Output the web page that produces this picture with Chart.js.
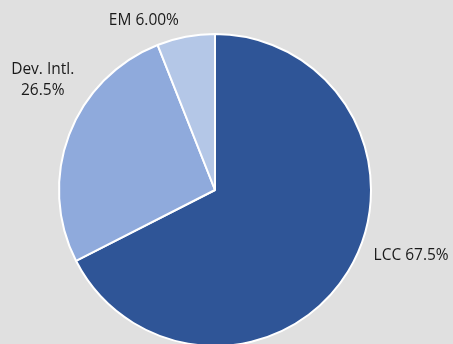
<!DOCTYPE html>
<html>
<head>
<meta charset="utf-8">
<script src="https://cdn.jsdelivr.net/npm/chart.js@4"></script>
<style>
  html, body { margin: 0; padding: 0; background: #e0e0e0; overflow: hidden; }
  #wrap { width: 453px; height: 350px; position: relative; }
</style>
</head>
<body>
<div id="wrap"><canvas id="myChart"></canvas></div>
<script>
// data
const categories = ['LCC', 'Dev. Intl.', 'EM'];
const shares = [67.5, 26.5, 6.0];
const shareLabels = ['67.5%', '26.5%', '6.00%'];
const colors = ['#2f5597', '#8faadc', '#b4c7e7'];

// label nudges (x, y) relative to a point just outside each slice
const labelNudge = [[17, -21], [-17, -52], [-40, -6]];

const outsideLabels = {
  id: 'outsideLabels',
  afterDatasetsDraw(chart) {
    const ctx = chart.ctx;
    const meta = chart.getDatasetMeta(0);
    ctx.save();
    ctx.font = '15.5px "Open Sans", sans-serif';
    ctx.fillStyle = '#1a1a1a';
    ctx.textBaseline = 'middle';
    meta.data.forEach((arc, i) => {
      const mid = (arc.startAngle + arc.endAngle) / 2;
      const r = arc.outerRadius + 10;
      const x = arc.x + Math.cos(mid) * r + labelNudge[i][0];
      const y = arc.y + Math.sin(mid) * r + labelNudge[i][1];
      if (categories[i] === 'Dev. Intl.') {
        ctx.textAlign = 'center';
        ctx.fillText(categories[i], x, y - 10);
        ctx.fillText(shareLabels[i], x, y + 11);
      } else if (i === 0) {
        ctx.textAlign = 'left';
        ctx.fillText(categories[i] + ' ' + shareLabels[i], x, y);
      } else {
        ctx.textAlign = 'center';
        ctx.fillText(categories[i] + ' ' + shareLabels[i], x, y);
      }
    });
    ctx.restore();
  }
};

const data = {
  labels: categories,
  datasets: [{
    data: shares,
    backgroundColor: colors,
    borderColor: '#ffffff',
    borderWidth: 2
  }]
};

const config = {
  type: 'pie',
  data,
  options: {
    responsive: true,
    maintainAspectRatio: false,
    animation: false,
    layout: { padding: { top: 33, bottom: 3, left: 58, right: 81 } },
    plugins: {
      legend: { display: false },
      tooltip: { enabled: false }
    }
  },
  plugins: [outsideLabels]
};

const myChart = new Chart(document.getElementById('myChart'), config);
</script>
</body>
</html>
